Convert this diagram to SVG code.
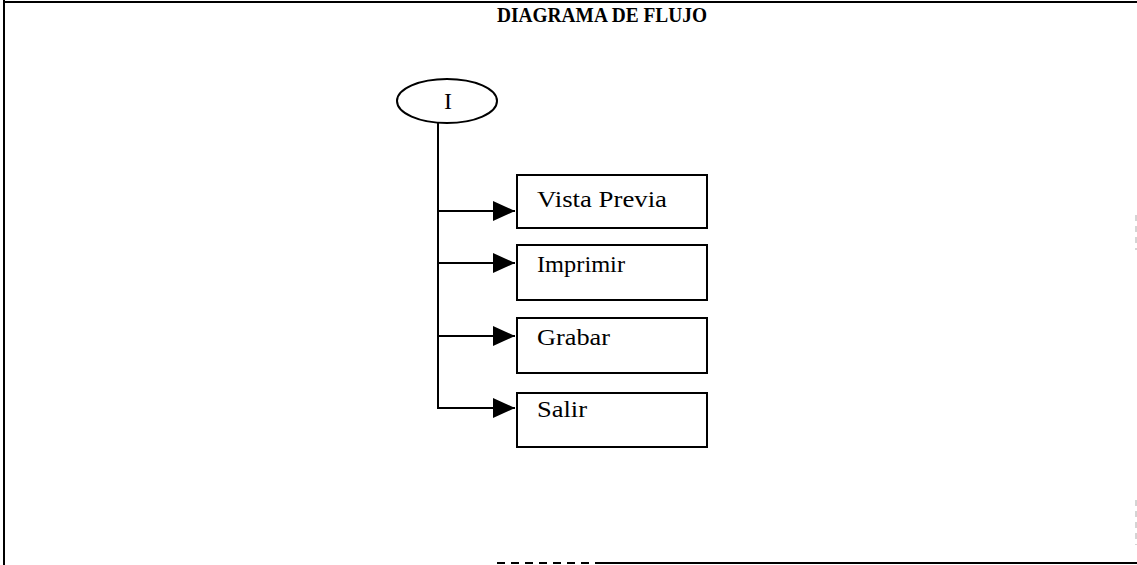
<svg xmlns="http://www.w3.org/2000/svg" width="1137" height="565" viewBox="0 0 1137 565">
<style>
.frame{stroke:#000;stroke-width:2;fill:none}
.node{fill:#fff;stroke:#000;stroke-width:2}
.conn{stroke:#000;stroke-width:2;fill:none}
.lbl{font-family:"Liberation Serif","Times New Roman",serif;font-size:24px;fill:#000}
.title{font-family:"Liberation Serif","Times New Roman",serif;font-size:20px;font-weight:bold;fill:#000}
</style>
<defs>
<marker id="arr" viewBox="0 0 22 20" refX="22" refY="10" markerWidth="22" markerHeight="20" markerUnits="userSpaceOnUse" orient="auto">
<path d="M0,0 L22,10 L0,20 Z" fill="#000"/>
</marker>
</defs>
<rect width="1137" height="565" fill="#fff"/>
<g id="frame">
<line class="frame" x1="5" y1="2" x2="1137" y2="2"/>
<line class="frame" x1="4" y1="0" x2="4" y2="565"/>
<line class="frame" x1="600" y1="563" x2="1137" y2="563"/>
<line x1="497" y1="563" x2="600" y2="563" stroke="#000" stroke-width="2" stroke-dasharray="8 6"/>
<line x1="1136" y1="215" x2="1136" y2="250" stroke="#aaa" stroke-width="1" stroke-dasharray="6 5"/>
<line x1="1136" y1="500" x2="1136" y2="545" stroke="#aaa" stroke-width="1" stroke-dasharray="6 5"/>
</g>
<text class="title" x="602" y="22" text-anchor="middle" textLength="210" lengthAdjust="spacingAndGlyphs">DIAGRAMA DE FLUJO</text>
<g id="connectors">
<line class="conn" x1="438" y1="122" x2="438" y2="409"/>
<line class="conn" x1="437" y1="211" x2="515" y2="211" marker-end="url(#arr)"/>
<line class="conn" x1="437" y1="263" x2="515" y2="263" marker-end="url(#arr)"/>
<line class="conn" x1="437" y1="336" x2="515" y2="336" marker-end="url(#arr)"/>
<line class="conn" x1="437" y1="408" x2="515" y2="408" marker-end="url(#arr)"/>
</g>
<g id="start">
<ellipse class="node" cx="447" cy="101" rx="50" ry="22"/>
<text class="lbl" x="448" y="109" text-anchor="middle">I</text>
</g>
<g id="vista-previa">
<rect class="node" x="517" y="175" width="190" height="53"/>
<text class="lbl" x="537" y="207" textLength="130" lengthAdjust="spacingAndGlyphs">Vista Previa</text>
</g>
<g id="imprimir">
<rect class="node" x="517" y="245" width="190" height="55"/>
<text class="lbl" x="537" y="272" textLength="88" lengthAdjust="spacingAndGlyphs">Imprimir</text>
</g>
<g id="grabar">
<rect class="node" x="517" y="318" width="190" height="55"/>
<text class="lbl" x="537" y="345" textLength="73" lengthAdjust="spacingAndGlyphs">Grabar</text>
</g>
<g id="salir">
<rect class="node" x="517" y="393" width="190" height="54"/>
<text class="lbl" x="537" y="417" textLength="50" lengthAdjust="spacingAndGlyphs">Salir</text>
</g>
</svg>
